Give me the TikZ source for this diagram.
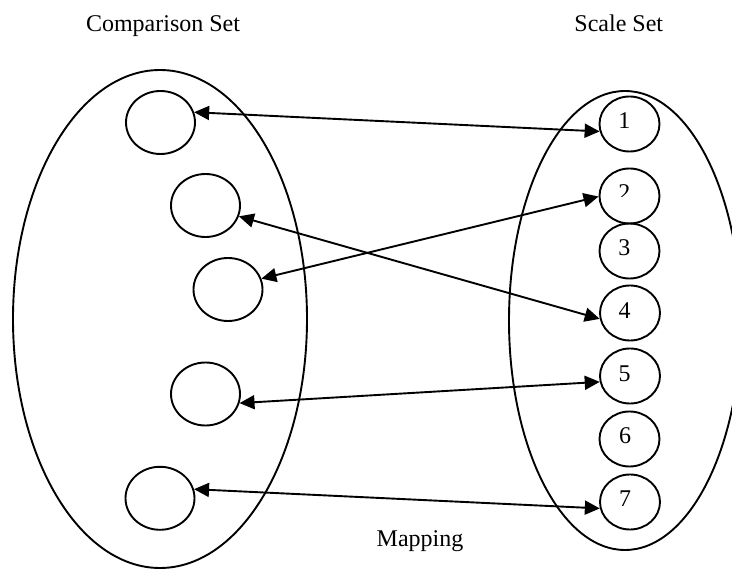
\documentclass[tikz,border=0pt]{standalone}
\usepackage{fontspec}
\setmainfont{Liberation Serif}
\usetikzlibrary{shapes.geometric,arrows.meta}
\begin{document}
\begin{tikzpicture}[x=1pt,y=-1pt,
  line width=1.9pt,
  bigset/.style={draw,ellipse,inner sep=0pt},
  lcirc/.style={draw,ellipse,inner sep=0pt,minimum width=69pt,minimum height=63pt},
  rcirc/.style={draw,ellipse,inner sep=0pt,minimum width=60pt,minimum height=55pt},
  digit/.style={inner sep=0pt,font=\fontsize{24}{28}\selectfont},
  title/.style={inner sep=0pt,anchor=base,font=\fontsize{24}{28}\selectfont},
  map/.style={>={Triangle[length=15pt,width=14pt]},<->}
]
\useasboundingbox (0,0) rectangle (732,569);
% big sets
\node[bigset,minimum width=294pt,minimum height=498pt] (cmp) at (160,319) {};
\begin{scope}
\clip (0,0) rectangle (732,569);
\node[bigset,minimum width=232pt,minimum height=459pt] (scl) at (625,320.5) {};
\end{scope}
% titles
\node[title] (tc) at (163,32) {Comparison Set};
\node[title] (ts) at (618.8,32) {Scale Set};
\node[title] (tm) at (420,546.7) {Mapping};
% left circles
\node[lcirc] (L1) at (160.5,122.5) {};
\node[lcirc] (L2) at (205.5,205.5) {};
\node[lcirc] (L3) at (228,289.5) {};
\node[lcirc] (L4) at (205.5,394) {};
\node[lcirc] (L5) at (160,498.3) {};
% right circles
\node[rcirc] (R1) at (629.5,124) {};
\node[rcirc] (R2) at (629.5,196) {};
\node[rcirc] (R3) at (629.5,251) {};
\node[rcirc] (R4) at (630,313) {};
\node[rcirc] (R5) at (630,376) {};
\node[rcirc] (R6) at (629.5,439) {};
\node[rcirc] (R7) at (630,502) {};
% digits
\node[digit] (d1) at (624.3,121) {1};
\begin{scope}
\clip (560,150) rectangle (700,196.7);
\node[digit] (d2) at (624.3,193) {2};
\end{scope}
\node[digit] (d3) at (624.3,248) {3};
\node[digit] (d4) at (624.5,310.7) {4};
\node[digit] (d5) at (624.5,374) {5};
\node[digit] (d6) at (625,436) {6};
\node[digit] (d7) at (625,499) {7};
% mappings
\draw[map] (L1.17) -- (R1.194);
\draw[map] (L2.342) -- (R4.191);
\draw[map] (L3.18) -- (R2.181);
\draw[map] (L4.345) -- (R5.191);
\draw[map] (L5.15) -- (R7.192);
\end{tikzpicture}
\end{document}
